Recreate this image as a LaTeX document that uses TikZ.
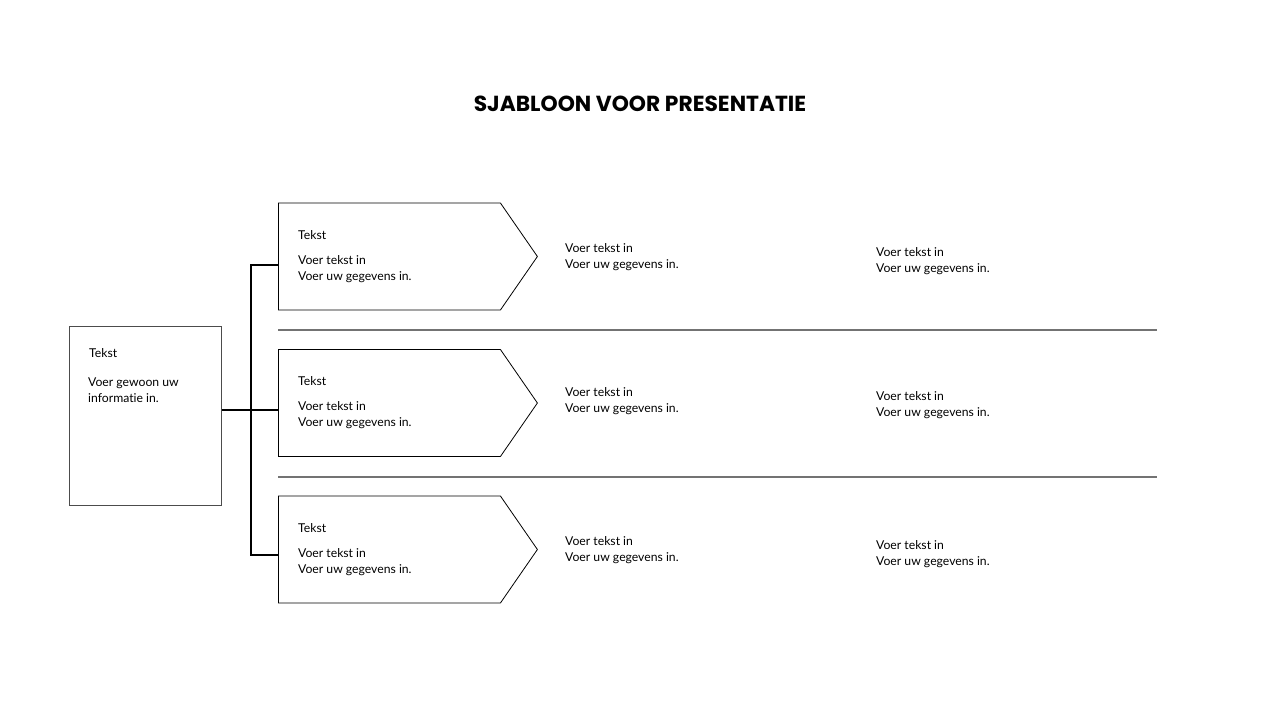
\documentclass[tikz,border=0pt]{standalone}
\usepackage{fontspec}
\setmainfont{Lato}[Ligatures=CommonOff]
\newfontfamily\titlefont{Poppins}
\usetikzlibrary{shapes.symbols,positioning}
\tikzstyle{label} = [anchor=west, align=left, inner sep=0pt, font=\fontsize{12.2}{16}\selectfont]
\tikzstyle{pointer} = [draw=black, line width=0.8pt, signal, signal to=east, signal pointer angle=110.7, minimum width=259pt, minimum height=107pt, inner sep=0pt]
\tikzstyle{box} = [draw=black!70, line width=0.8pt, minimum width=152pt, minimum height=179pt, inner sep=0pt]
\tikzstyle{link} = [draw=black, line width=1.4pt]
\tikzstyle{rule} = [draw=black!55, line width=1.2pt]

\begin{document}
\begin{tikzpicture}[x=1pt, y=-1pt]
    \useasboundingbox (0,0) rectangle (1280,720);

    \node [font=\titlefont\bfseries\fontsize{21.8}{26}\selectfont] (title) at (640,104) {SJABLOON VOOR PRESENTATIE};

    \node [box, anchor=north west] (start) at (69,326) {};
    \node [label] (start_title) at (89,353) {Tekst};
    \node [label] (start_text) at (88,390.5) {Voer gewoon uw\\informatie in.};

    \foreach \n/\y/\s/\ca/\cb in {1/256.5/-8.5/257/261, 2/403/-7/401/405, 3/549.5/-5.5/550/554} {
        \node [pointer, anchor=west] (row\n) at (278,\y) {};
        \node [label] (row\n_title) at (298,\y-21.5) {Tekst};
        \node [label] (row\n_text) at (298,\y+12.5) {Voer tekst in\\Voer uw gegevens in.};
        \node [label] (row\n_mid) at (565,\ca) {Voer tekst in\\Voer uw gegevens in.};
        \node [label] (row\n_end) at (876,\cb) {Voer tekst in\\Voer uw gegevens in.};
        \coordinate (branch\n) at ([yshift=\s pt]row\n.west);
    }

    \coordinate (trunk) at (251,410);
    \draw [link] (branch1) -- (branch1 -| trunk) -- (branch3 -| trunk) -- (branch3);
    \draw [link] (start.east |- branch2) -- (branch2);

    \draw [rule] (278,330) -- (1157,330);
    \draw [rule] (278,477) -- (1157,477);
\end{tikzpicture}
\end{document}
